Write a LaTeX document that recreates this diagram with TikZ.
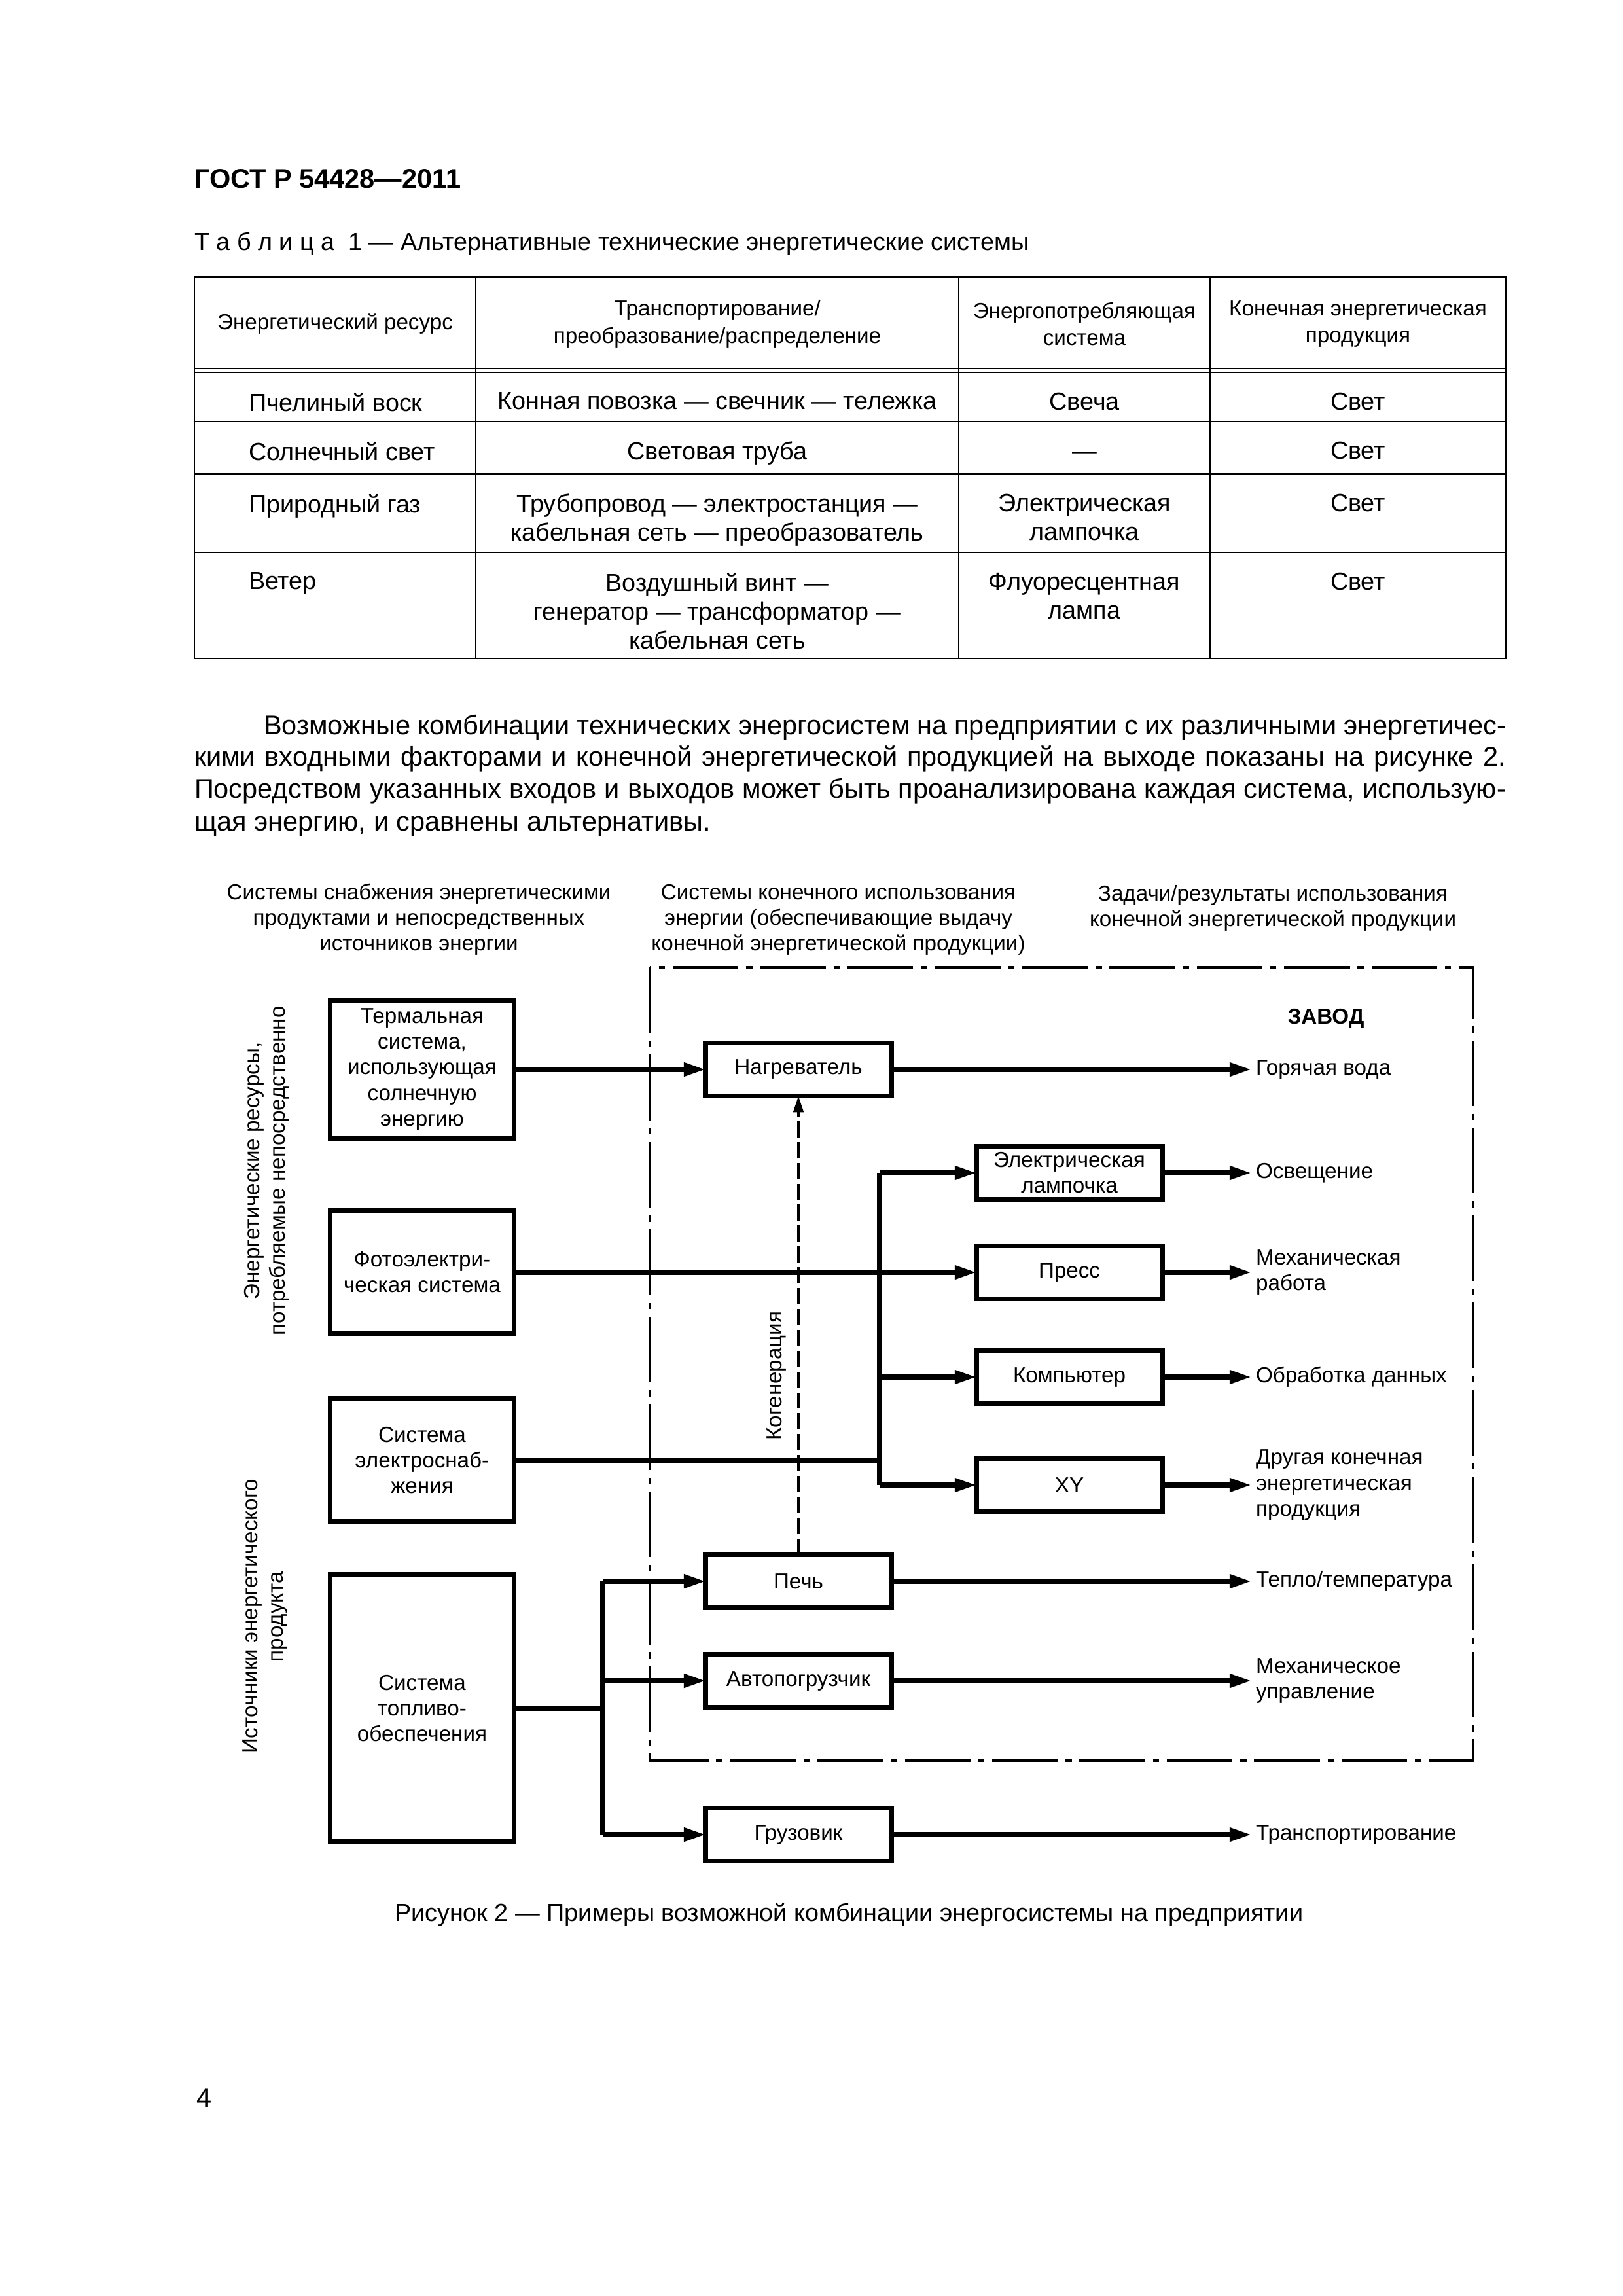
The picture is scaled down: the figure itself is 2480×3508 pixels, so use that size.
\documentclass[tikz,border=0pt]{standalone}
\usepackage{fontspec}
\setmainfont{Liberation Sans}
\usetikzlibrary{arrows.meta,positioning,calc}
\newdimen\pxu \pxu=0.0846774mm

\begin{document}
\begin{tikzpicture}[x=\pxu,y=-\pxu,
  every node/.style={inner sep=0pt,outer sep=0pt},
  dfont/.style={font=\fontsize{8}{9.4}\selectfont},
  srcbox/.style={dfont,draw,line width=0.6mm,minimum width=281\pxu,align=center},
  usebox/.style={dfont,draw,line width=0.6mm,minimum width=284\pxu,minimum height=81\pxu,align=center},
  flow/.style={line width=0.6mm,-{Triangle[length=2.8mm,width=1.7mm]}},
  feed/.style={line width=0.6mm},
  outlbl/.style={dfont,anchor=west,align=left,xshift=0.6mm},
  plantframe/.style={line width=0.35mm,dash pattern=on 8.5mm off 1mm on 0.8mm off 1mm},
  cogen/.style={line width=0.3mm,dash pattern=on 2.1mm off 0.6mm,-{Triangle[length=2.1mm,width=1.3mm]}},
  thead/.style={font=\fontsize{8}{10}\selectfont,align=center},
  tcell/.style={font=\fontsize{9.1}{10.6}\selectfont,align=center,anchor=north},
  tline/.style={line width=0.17mm},
  bodytext/.style={font=\fontsize{10}{11.8}\selectfont},
  smalltext/.style={font=\fontsize{9.1}{11}\selectfont}]

% page
\fill[white] (0,0) rectangle (2480,3508);

% heading
\node[anchor=west,font=\fontsize{10}{12}\selectfont\bfseries] (gost) at (297,273) {ГОСТ Р 54428—2011};
\node[anchor=west,smalltext] (tabcap) at (297,373) {Т а б л и ц а\ \ 1 — Альтернативные технические энергетические системы};

% table 1
\draw[tline] (297,423) rectangle (2301,1006);
\foreach \cx in {727,1465,1849} \draw[tline] (\cx,423) -- (\cx,1006);
\foreach \ry in {563,569,644,724,844} \draw[tline] (297,\ry) -- (2301,\ry);

\node[thead] (h1) at (512,495) {Энергетический ресурс};
\node[thead] (h2) at (1096,495) {Транспортирование/\\преобразование/распределение};
\node[thead] (h3) at (1657,495) {Энергопотребляющая\\система};
\node[thead] (h4) at (2075,495) {Конечная энергетическая\\продукция};

\node[tcell,anchor=north west] (r1c1) at (380,600) {Пчелиный воск};
\node[tcell] (r1c2) at (1096,600) {Конная повозка — свечник — тележка};
\node[tcell] (r1c3) at (1657,600) {Свеча};
\node[tcell] (r1c4) at (2075,600) {Свет};

\node[tcell,anchor=north west] (r2c1) at (380,675) {Солнечный свет};
\node[tcell] (r2c2) at (1096,675) {Световая труба};
\node[tcell] (r2c3) at (1657,675) {\vphantom{С}—};
\node[tcell] (r2c4) at (2075,675) {Свет};

\node[tcell,anchor=north west] (r3c1) at (380,755) {Природный газ};
\node[tcell] (r3c2) at (1096,755) {Трубопровод — электростанция —\\кабельная сеть — преобразователь};
\node[tcell] (r3c3) at (1657,755) {Электрическая\\лампочка};
\node[tcell] (r3c4) at (2075,755) {Свет};

\node[tcell,anchor=north west] (r4c1) at (380,875) {Ветер};
\node[tcell] (r4c2) at (1096,875) {Воздушный винт —\\генератор — трансформатор —\\кабельная сеть};
\node[tcell] (r4c3) at (1657,875) {Флуоресцентная\\лампа};
\node[tcell] (r4c4) at (2075,875) {Свет};

% paragraph
\node[bodytext,anchor=base west] (par1) at (403,1122) {\makebox[1898\pxu][s]{Возможные комбинации технических энергосистем на предприятии с их различными энергетичес-}};
\node[bodytext,anchor=base west] (par2) at (297,1170) {\makebox[2004\pxu][s]{кими входными факторами и конечной энергетической продукцией на выходе показаны на рисунке 2.}};
\node[bodytext,anchor=base west] (par3) at (297,1219) {\makebox[2004\pxu][s]{Посредством указанных входов и выходов может быть проанализирована каждая система, использую-}};
\node[bodytext,anchor=base west] (par4) at (297,1269) {щая энергию, и сравнены альтернативы.};

% figure 2: column titles
\node[dfont,align=center] (col1) at (640,1405) {Системы снабжения энергетическими\\продуктами и непосредственных\\источников энергии};
\node[dfont,align=center] (col2) at (1281,1405) {Системы конечного использования\\энергии (обеспечивающие выдачу\\конечной энергетической продукции)};
\node[dfont,align=center] (col3) at (1945,1387) {Задачи/результаты использования\\конечной энергетической продукции};

% side titles
\node[dfont,rotate=90,align=center] (side1) at (408,1789) {Энергетические ресурсы,\\потребляемые непосредственно};
\node[dfont,rotate=90,align=center] (side2) at (405,2470) {Источники энергетического\\продукта};

% plant
\draw[plantframe] (993,1478) rectangle (2251,2690);
\node[dfont,font=\fontsize{8}{9.4}\selectfont\bfseries] (plant) at (2026,1556) {ЗАВОД};

% supply systems
\node[srcbox,minimum height=210\pxu] (thermal) at (645,1634) {Термальная\\система,\\использующая\\солнечную\\энергию};
\node[srcbox,minimum height=188\pxu] (photo) at (645,1944) {Фотоэлектри-\\ческая система};
\node[srcbox,minimum height=188\pxu] (elec) at (645,2231) {Система\\электроснаб-\\жения};
\node[srcbox,minimum height=408\pxu] (fuel) at (645,2610) {Система\\топливо-\\обеспечения};

% end-use systems
\node[usebox] (heater) at (1220,1634) {Нагреватель};
\node[usebox] (lamp) at (1634,1792) {Электрическая\\лампочка};
\node[usebox] (press) at (1634,1944) {Пресс};
\node[usebox] (comp) at (1634,2104) {Компьютер};
\node[usebox] (xy) at (1634,2269) {XY};
\node[usebox] (pech) at (1220,2416) {Печь};
\node[usebox] (loader) at (1220,2568) {Автопогрузчик};
\node[usebox] (truck) at (1220,2803) {Грузовик};

% supply lines
\coordinate (ebustop) at (1344,1792);
\coordinate (ebusbot) at (1344,2269);
\coordinate (fbustop) at (921,2416);
\coordinate (fbusbot) at (921,2803);

\draw[flow] (thermal) -- (heater);
\draw[flow] (photo) -- (press);
\draw[feed] (elec.east) -- (elec.east -| ebustop);
\draw[feed] (ebustop) -- (ebusbot);
\draw[flow] (ebustop) -- (lamp);
\draw[flow] (ebustop |- comp) -- (comp);
\draw[flow] (ebusbot) -- (xy);
\draw[feed] (fuel.east) -- (fuel.east -| fbustop);
\draw[feed] (fbustop) -- (fbusbot);
\draw[flow] (fbustop) -- (pech);
\draw[flow] (fbustop |- loader) -- (loader);
\draw[flow] (fbusbot) -- (truck);

% cogeneration
\draw[cogen] (pech.north) -- (heater.south);
\node[dfont,rotate=90] (cogenlbl) at (1187,2102) {Когенерация};

% end products
\coordinate (outx) at (1912,0);
\foreach \n/\t in {heater/{Горячая вода},lamp/{Освещение},press/{Механическая\\работа},
    comp/{Обработка данных},xy/{Другая конечная\\энергетическая\\продукция},
    pech/{Тепло/температура},loader/{Механическое\\управление},truck/{Транспортирование}}
  \draw[flow] (\n.east) -- (\n.east -| outx) node[outlbl] (out-\n) {\t};

% caption and page number
\node[smalltext] (figcap) at (1297,2925) {Рисунок 2 — Примеры возможной комбинации энергосистемы на предприятии};
\node[bodytext,anchor=west] (pageno) at (300,3205) {4};
\end{tikzpicture}
\end{document}
